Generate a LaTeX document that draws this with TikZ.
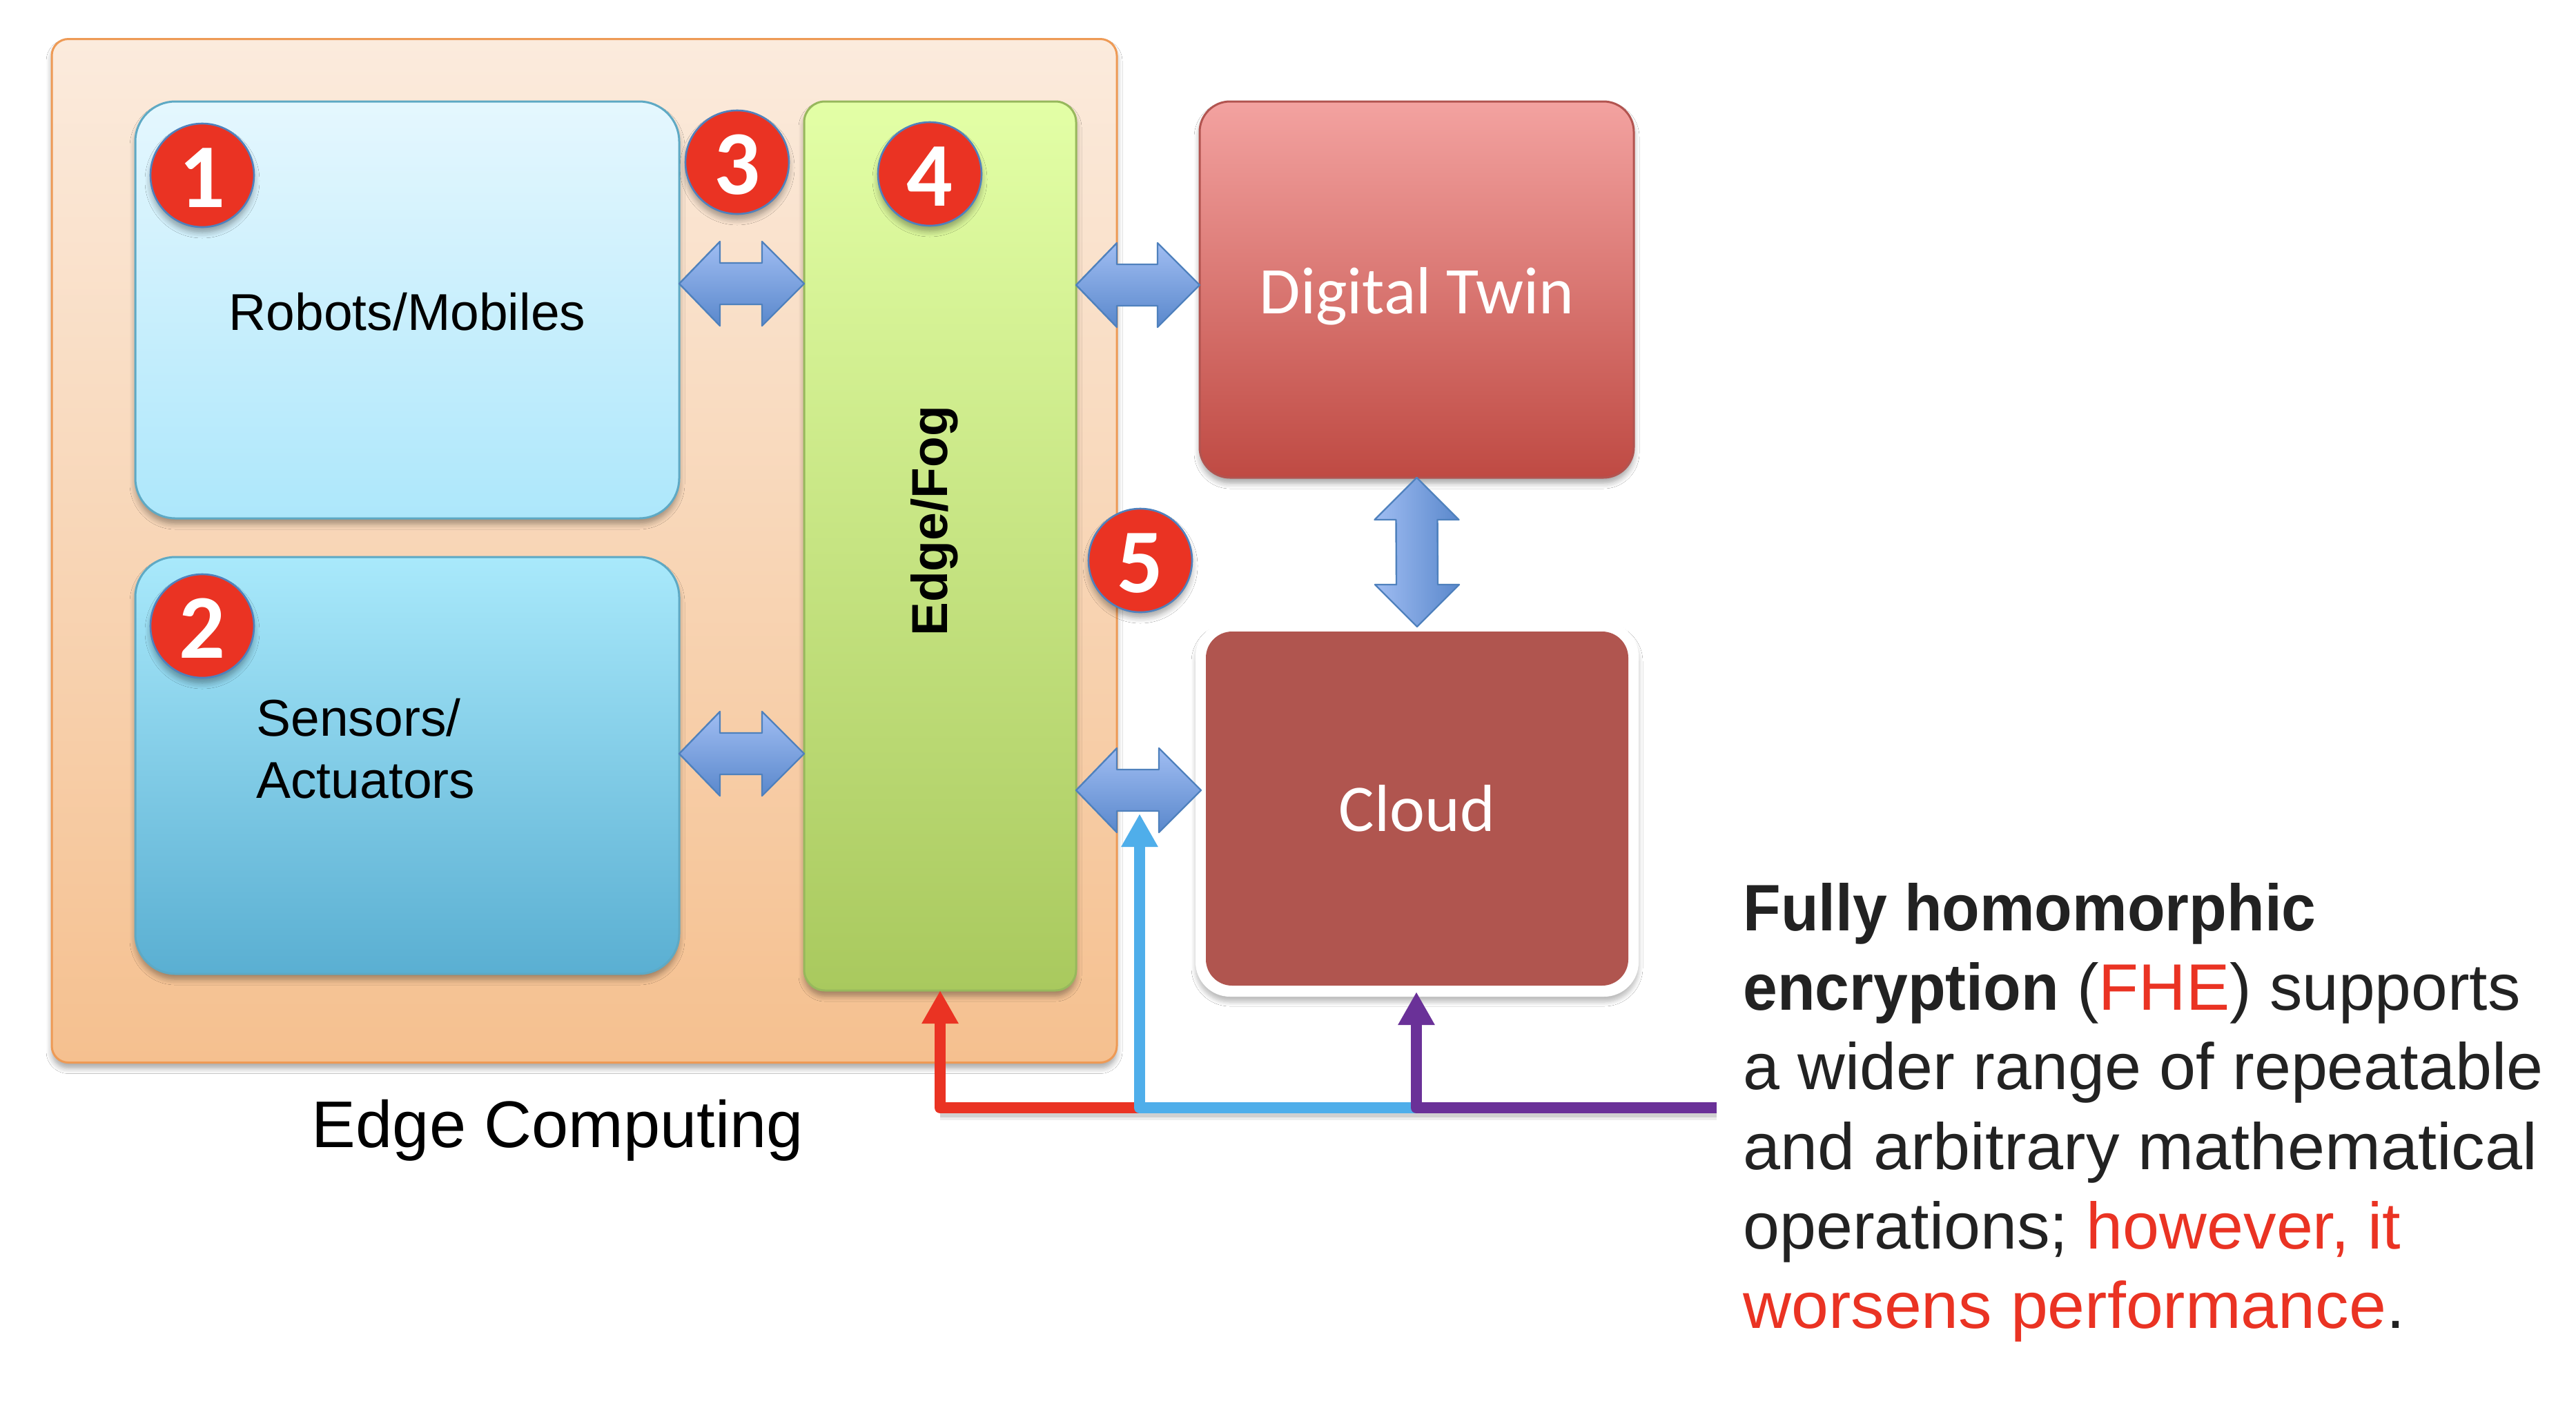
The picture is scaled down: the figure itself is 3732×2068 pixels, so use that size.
\documentclass[tikz,border=0pt]{standalone}
\usepackage{fontspec}
\setmainfont{Liberation Sans}
\newfontfamily\calib{Carlito}
\newfontfamily\narrowbold[FakeStretch=0.94]{Liberation Sans Bold}
\newfontfamily\narrowreg[FakeStretch=0.995]{Liberation Sans}
\newfontfamily\widerA[FakeStretch=1.021]{Liberation Sans}
\newfontfamily\widerB[FakeStretch=1.018]{Liberation Sans}
\usetikzlibrary{calc,shadows,shadows.blur,arrows.meta}
\definecolor{outerA}{HTML}{FBEBDD}\definecolor{outerB}{HTML}{F5C08F}\definecolor{outerL}{HTML}{EE9A55}
\definecolor{robA}{HTML}{E5F7FE}\definecolor{robB}{HTML}{ADE7FB}\definecolor{blueL}{HTML}{5EA9C4}
\definecolor{senA}{HTML}{A9E9FB}\definecolor{senB}{HTML}{5AAFD2}
\definecolor{grnA}{HTML}{E3FFA6}\definecolor{grnB}{HTML}{A9C95E}\definecolor{grnL}{HTML}{97B85C}
\definecolor{twnA}{HTML}{F3A2A0}\definecolor{twnB}{HTML}{BF4A43}\definecolor{twnL}{HTML}{B25450}
\definecolor{cld}{HTML}{B0554F}
\definecolor{redM}{HTML}{EA3323}\definecolor{bluM}{HTML}{4FAEEA}\definecolor{purM}{HTML}{6A3198}
\definecolor{arrA}{HTML}{A0BDF2}\definecolor{arrB}{HTML}{5A88CC}\definecolor{arrL}{HTML}{4F81BD}
\definecolor{txtD}{HTML}{222222}
\tikzset{
  softshadow/.style={blur shadow={shadow blur steps=6,shadow xshift=0pt,shadow yshift=-4pt,shadow blur radius=4pt,shadow opacity=35}},
  plainbox/.style={rectangle,outer sep=0pt,inner sep=0pt,line width=1.5pt},
  box/.style={plainbox,softshadow},
  badge/.style={circle,outer sep=0pt,inner sep=0pt,minimum size=75pt,text height=46pt,text depth=0pt,fill=redM,draw=arrL,line width=1.3pt,softshadow,text=white,font=\calib\bfseries\fontsize{66}{66}\selectfont},
  darrowH/.style={draw=arrL,line width=1.2pt,top color=arrA,bottom color=arrB,line join=round},
  darrowV/.style={draw=arrL,line width=1.2pt,left color=arrA,right color=arrB,line join=round},
  feed/.style={line width=8pt,line join=round,-{Triangle[length=24pt,width=25pt]}},
  feedshade/.style={line width=7pt,black,opacity=0.12},
  arial/.style={font=\fontsize{37.5}{45}\selectfont},
}
\newcommand{\dblH}[2]{\path[darrowH] (#1) -- ($(#1)+(59,-61)$) -- ($(#1)+(59,-30)$) -- ($(#2)+(-61,-30)$) -- ($(#2)+(-61,-61)$) -- (#2) -- ($(#2)+(-61,61)$) -- ($(#2)+(-61,30)$) -- ($(#1)+(59,30)$) -- ($(#1)+(59,61)$) -- cycle;}
\newcommand{\dblV}[2]{\path[darrowV] (#1) -- ($(#1)+(61,61)$) -- ($(#1)+(30,61)$) -- ($(#2)+(30,-61)$) -- ($(#2)+(61,-61)$) -- (#2) -- ($(#2)+(-61,-61)$) -- ($(#2)+(-30,-61)$) -- ($(#1)+(-30,61)$) -- ($(#1)+(-61,61)$) -- cycle;}
\begin{document}
\begin{tikzpicture}[x=0.5pt,y=-0.5pt]
\useasboundingbox (0,0) rectangle (3732,2068);
\fill[white] (0,0) rectangle (3732,2068);
% containers
\node[box,minimum width=771.5pt,minimum height=741.5pt,rounded corners=12pt,top color=outerA,bottom color=outerB,draw=outerL] (edge) at (846.5,798) {};
\node[box,minimum width=394pt,minimum height=302pt,rounded corners=29pt,top color=robA,bottom color=robB,draw=blueL,arial,text height=30pt,text depth=0.6pt] (robots) at (590,449) {Robots/Mobiles};
\node[box,minimum width=394pt,minimum height=302pt,rounded corners=29pt,top color=senA,bottom color=senB,draw=blueL] (sensors) at (590,1109) {};
\node[anchor=north west,inner sep=0pt,align=left,arial] (senstext) at (371,1012) {Sensors/\\Actuators};
\node[box,minimum width=197pt,minimum height=644pt,rounded corners=15pt,top color=grnA,bottom color=grnB,draw=grnL] (fog) at (1362,791) {};
\node[rotate=90,inner sep=0pt,font=\bfseries\fontsize{36.6}{40}\selectfont] (fogtext) at (1354,755) {Edge/Fog};
\node[box,minimum width=314.5pt,minimum height=272.5pt,rounded corners=22pt,top color=twnA,bottom color=twnB,draw=twnL,text=white,text height=45pt,text depth=10.5pt,font=\calib\fontsize{48.3}{50}\selectfont] (twin) at (2052.5,419.5) {Digital Twin};
\node[plainbox,minimum width=321pt,minimum height=271.5pt,rounded corners=25pt,fill=white,blur shadow={shadow blur steps=6,shadow xshift=0pt,shadow yshift=-4pt,shadow blur radius=3pt,shadow opacity=25}] (cloudback) at (2053,1172.5) {};
\node[plainbox,minimum width=306pt,minimum height=256.5pt,rounded corners=19pt,fill=cld,text=white,font=\calib\fontsize{48.3}{50}\selectfont] (cloud) at (2053,1171.5) {Cloud};
\node[anchor=center,inner sep=0pt,font=\fontsize{47.8}{50}\selectfont] (edgelabel) at (808,1638) {Edge Computing};
% double arrows
\coordinate (a1L) at ([yshift=19pt]robots.east);
\coordinate (a1R) at (a1L-|fog.west);
\coordinate (a2L) at ([yshift=8.5pt]sensors.east);
\coordinate (a2R) at (a2L-|fog.west);
\coordinate (a3L) at (fog.east|-0,413);
\coordinate (a3R) at (twin.west|-0,413);
\coordinate (a4L) at (fog.east|-0,1145);
\coordinate (a4R) at ([xshift=4pt]cloudback.west|-0,1145);
\dblH{a1L}{a1R}
\dblH{a2L}{a2R}
\dblH{a3L}{a3R}
\dblH{a4L}{a4R}
\coordinate (a5T) at (twin.south);
\coordinate (a5B) at ([yshift=-3.5pt]cloudback.north);
\dblV{a5T}{a5B}
% badges
\node[badge] (b1) at (293,254) {1};
\node[badge] (b2) at (293,907) {2};
\node[badge] (b3) at (1068,235) {3};
\node[badge] (b4) at (1347,252) {4};
\node[badge] (b5) at (1652,812) {5};
% coloured feeds
\coordinate (fhe) at (2487,1605);
\coordinate (jB) at (1651,1605);
\coordinate (jP) at (2052,1605);
\coordinate (aBlue) at (1651,1179);
\draw[feedshade] ([yshift=-3.5pt]jB-|fog.south) -- ([yshift=-3.5pt]fhe);
\draw[feedshade,line width=10pt,opacity=0.07] ([yshift=-4pt]jB-|fog.south) -- ([yshift=-4pt]fhe);
\draw[feed,draw=redM] (jB) -- (jB-|fog.south) -- (fog.south);
\draw[feed,draw=bluM] (jP) -- (jB) -- (aBlue);
\draw[feed,draw=purM] (fhe) -- (jP) -- ([yshift=3.5pt]cloudback.south-|jP);
% explanation
\node[anchor=north west,inner sep=0pt,align=left,text=txtD,font=\fontsize{47.6}{57.6}\selectfont] (fhetext) at (2525,1279)
 {{\narrowbold Fully homomorphic}\\
  {\narrowbold encryption} {\narrowreg(\textcolor{redM}{FHE}) supports}\\
  a wider range of repeatable\\
  {\widerA and arbitrary mathematical}\\
  operations; \textcolor{redM}{however, it}\\
  {\widerB\textcolor{redM}{worsens performance}.}};
\end{tikzpicture}
\end{document}
